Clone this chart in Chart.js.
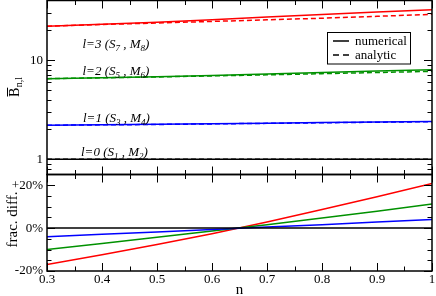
<!DOCTYPE html>
<html>
<head>
<meta charset="utf-8">
<script src="https://cdn.jsdelivr.net/npm/chart.js@4/dist/chart.umd.min.js"></script>
<style>
  html, body { margin: 0; padding: 0; background: #fff; }
  #wrap { position: relative; width: 436px; height: 296px; }
  #wrap canvas { position: absolute; left: 0; top: 0; }
</style>
</head>
<body>
<div id="wrap">
  <canvas id="topChart" width="436" height="296"></canvas>
  <canvas id="bottomChart" width="436" height="296"></canvas>
</div>
<script>
const FONT = '"Liberation Serif", serif';

// n grid
const N = [0.3, 0.4, 0.5, 0.6, 0.7, 0.8, 0.9, 1.0];

// B_{n,l} — numerical (solid) and analytic (dashed)
const B0_NUM = [1, 1, 1, 1, 1, 1, 1, 1];
const B0_ANA = [1, 1, 1, 1, 1, 1, 1, 1];
const B1_NUM = [2.20, 2.22, 2.25, 2.28, 2.31, 2.34, 2.37, 2.40];
const B1_ANA = [2.20, 2.22, 2.24, 2.27, 2.30, 2.33, 2.36, 2.39];
const B2_NUM = [6.50, 6.65, 6.80, 7.00, 7.25, 7.50, 7.75, 8.00];
const B2_ANA = [6.50, 6.63, 6.76, 6.93, 7.10, 7.30, 7.50, 7.70];
const B3_NUM = [22.0, 23.0, 24.1, 25.6, 27.2, 28.9, 30.6, 32.3];
const B3_ANA = [22.0, 22.9, 23.7, 24.6, 25.5, 26.5, 27.7, 29.0];

// fractional difference, percent
const FRAC0 = [0, 0, 0, 0, 0, 0, 0, 0];
const FRAC1 = [-4.0, -2.9, -1.8, -0.6, 0.5, 1.6, 2.8, 4.0];
const FRAC2 = [-10.0, -7.2, -4.3, -1.4, 1.6, 4.7, 7.9, 11.3];
const FRAC3 = [-17.0, -12.4, -7.6, -2.6, 2.9, 8.7, 14.6, 20.8];

// axis ticks
const X_MAJOR = [0.3, 0.4, 0.5, 0.6, 0.7, 0.8, 0.9, 1.0];
const X_MINOR = [0.35, 0.45, 0.55, 0.65, 0.75, 0.85, 0.95];
const B_MAJOR = [1, 10];
const B_MINOR = [0.8, 0.9, 2, 3, 4, 5, 6, 7, 8, 9, 20, 30];
const FRAC_MAJOR = [-20, 0, 20];
const FRAC_MINOR = [-15, -10, -5, 5, 10, 15];
const FRAC_LABELS = { '-20': '-20%', '0': '0%', '20': '+20%' };

// curve annotations: [l, S index, M index]
const LEVELS = [['0', '1', '2'], ['1', '3', '4'], ['2', '5', '6'], ['3', '7', '8']];

const COLORS = ['#000000', '#0000ff', '#009100', '#ff0000'];

const pts = (ys) => ys.map((y, i) => ({ x: N[i], y }));

function series(ys, color, dashed) {
  return {
    data: pts(ys),
    borderColor: color,
    borderWidth: 1.5,
    borderDash: dashed ? [5, 3] : [],
    pointRadius: 0,
    tension: 0,
    fill: false
  };
}

// no label overhang padding, fixed axis size
function fixAxis(size) {
  return (s) => {
    if (s.isHorizontal()) s.height = size; else s.width = size;
    s.paddingTop = 0; s.paddingBottom = 0; s.paddingLeft = 0; s.paddingRight = 0;
  };
}

function drawTicks(chart, xMajor, xMinor, yMajor, yMinor) {
  const { ctx, chartArea: a, scales } = chart;
  ctx.save();
  ctx.strokeStyle = '#000';
  ctx.lineWidth = 1;
  ctx.beginPath();
  const xt = (vals, len) => vals.forEach(v => {
    const p = Math.round(scales.x.getPixelForValue(v)) + 0.5;
    ctx.moveTo(p, a.top); ctx.lineTo(p, a.top + len);
    ctx.moveTo(p, a.bottom); ctx.lineTo(p, a.bottom - len);
  });
  const yt = (vals, len) => vals.forEach(v => {
    const p = Math.round(scales.y.getPixelForValue(v)) + 0.5;
    ctx.moveTo(a.left, p); ctx.lineTo(a.left + len, p);
    ctx.moveTo(a.right, p); ctx.lineTo(a.right - len, p);
  });
  xt(xMajor, 8); xt(xMinor, 4.5);
  yt(yMajor, 8); yt(yMinor, 4.5);
  ctx.stroke();
  ctx.lineWidth = 1.5;
  ctx.strokeRect(a.left, a.top, a.right - a.left, a.bottom - a.top);
  ctx.restore();
}

// text with subscripts: parts = [[text, isSub], ...]
function richText(ctx, parts, x, y, size) {
  let cx = x;
  parts.forEach(([t, sub]) => {
    ctx.font = 'italic ' + (sub ? size - 4 : size) + 'px ' + FONT;
    ctx.fillText(t, cx, sub ? y + 3 : y);
    cx += ctx.measureText(t).width;
  });
}

const topDecor = {
  id: 'topDecor',
  afterDraw(chart) {
    drawTicks(chart, X_MAJOR, X_MINOR, B_MAJOR, B_MINOR);
    const ctx = chart.ctx;
    ctx.save();
    ctx.fillStyle = '#000';
    ctx.textBaseline = 'alphabetic';
    ctx.textAlign = 'left';
    // level labels
    const labelPos = [[81, 156], [83, 122], [82.5, 75], [82.5, 47.5]];
    LEVELS.forEach(([l, s, m], i) => {
      const [x, y] = labelPos[i];
      richText(ctx, [['l=' + l + ' (S', false], [s, true], [' , M', false], [m, true], [')', false]], x, y, 13);
    });
    // legend
    ctx.strokeStyle = '#000';
    ctx.lineWidth = 1;
    ctx.strokeRect(327.5, 32.5, 83, 31.5);
    ctx.lineWidth = 1.5;
    ctx.beginPath();
    ctx.moveTo(333, 41); ctx.lineTo(349, 41);
    ctx.stroke();
    ctx.setLineDash([6, 4]);
    ctx.beginPath();
    ctx.moveTo(333, 55); ctx.lineTo(349, 55);
    ctx.stroke();
    ctx.setLineDash([]);
    ctx.font = '13px ' + FONT;
    ctx.fillText('numerical', 355, 45);
    ctx.fillText('analytic', 355, 59);
    // y title: B-bar_{n,l}
    ctx.translate(19, 97);
    ctx.rotate(-Math.PI / 2);
    ctx.font = '14px ' + FONT;
    ctx.fillText('B', 0, 0);
    const bw = ctx.measureText('B').width;
    ctx.lineWidth = 1;
    ctx.beginPath();
    ctx.moveTo(0.5, -11.5); ctx.lineTo(bw, -11.5);
    ctx.stroke();
    ctx.font = '10px ' + FONT;
    ctx.fillText('n,l', bw + 0.5, 3);
    ctx.restore();
  }
};

const bottomDecor = {
  id: 'bottomDecor',
  afterDraw(chart) {
    drawTicks(chart, X_MAJOR, X_MINOR, FRAC_MAJOR, FRAC_MINOR);
    const ctx = chart.ctx;
    ctx.save();
    ctx.fillStyle = '#000';
    ctx.textAlign = 'center';
    ctx.textBaseline = 'middle';
    ctx.font = '15px ' + FONT;
    const a = chart.chartArea;
    ctx.fillText('n', (a.left + a.right) / 2, 290);
    ctx.translate(13, 219.5);
    ctx.rotate(-Math.PI / 2);
    ctx.fillText('frac. diff.', 0, 0);
    ctx.restore();
  }
};

const tickFont = { family: FONT, size: 13 };

new Chart(document.getElementById('topChart'), {
  type: 'line',
  data: {
    datasets: [
      series(B0_NUM, COLORS[0], false), series(B0_ANA, COLORS[0], true),
      series(B1_NUM, COLORS[1], false), series(B1_ANA, COLORS[1], true),
      series(B2_NUM, COLORS[2], false), series(B2_ANA, COLORS[2], true),
      series(B3_NUM, COLORS[3], false), series(B3_ANA, COLORS[3], true)
    ]
  },
  options: {
    responsive: false,
    animation: false,
    layout: { autoPadding: false, padding: { top: 0.5, right: 4, bottom: 121.5, left: 0 } },
    plugins: { legend: { display: false }, tooltip: { enabled: false } },
    scales: {
      x: { type: 'linear', min: 0.3, max: 1, display: false },
      y: {
        type: 'logarithmic',
        min: 0.7,
        max: 40,
        grid: { display: false, drawTicks: false },
        border: { display: false },
        afterBuildTicks: (s) => { s.ticks = B_MAJOR.map(v => ({ value: v })); },
        afterFit: fixAxis(47),
        ticks: { padding: 4, color: '#000', font: tickFont, callback: (v) => String(v) }
      }
    }
  },
  plugins: [topDecor]
});

new Chart(document.getElementById('bottomChart'), {
  type: 'line',
  data: {
    datasets: [
      series(FRAC0, COLORS[0], false),
      series(FRAC1, COLORS[1], false),
      series(FRAC2, COLORS[2], false),
      series(FRAC3, COLORS[3], false)
    ]
  },
  options: {
    responsive: false,
    animation: false,
    layout: { autoPadding: false, padding: { top: 174.5, right: 4, bottom: 0, left: 0 } },
    plugins: { legend: { display: false }, tooltip: { enabled: false } },
    scales: {
      x: {
        type: 'linear',
        min: 0.3,
        max: 1,
        grid: { display: false, drawTicks: false },
        border: { display: false },
        afterBuildTicks: (s) => { s.ticks = X_MAJOR.map(v => ({ value: v })); },
        afterFit: fixAxis(25),
        ticks: {
          padding: 1, color: '#000', font: tickFont, maxRotation: 0, autoSkip: false,
          callback: (v) => (v === 1 ? '1' : v.toFixed(1))
        }
      },
      y: {
        min: -20,
        max: 25,
        grid: { display: false, drawTicks: false },
        border: { display: false },
        afterBuildTicks: (s) => { s.ticks = FRAC_MAJOR.map(v => ({ value: v })); },
        afterFit: fixAxis(47),
        ticks: { padding: 4, color: '#000', font: tickFont, callback: (v) => FRAC_LABELS[String(v)] }
      }
    }
  },
  plugins: [bottomDecor]
});
</script>
</body>
</html>
